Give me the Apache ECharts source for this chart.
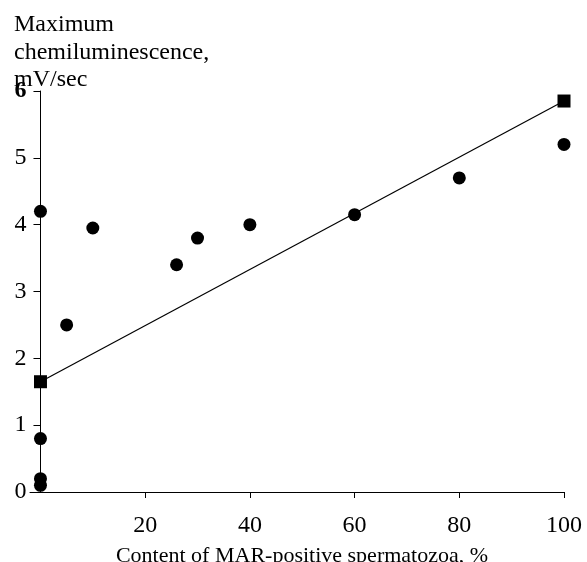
<!DOCTYPE html>
<html>
<head>
<meta charset="utf-8">
<script src="https://cdn.jsdelivr.net/npm/echarts@6/dist/echarts.min.js"></script>
<style>
  html, body { margin: 0; padding: 0; background: #fff; }
  #chart { width: 587px; height: 562px; }
</style>
</head>
<body>
<div id="chart"></div>
<script>
// measured points (MAR-positive %, max chemiluminescence)
const pointsX = [0, 0, 0, 0, 5, 10, 26, 30, 40, 60, 80, 100];
const pointsY = [4.2, 0.8, 0.2, 0.1, 2.5, 3.95, 3.4, 3.8, 4.0, 4.15, 4.7, 5.2];
// regression line end points
const fitX = [0, 100];
const fitY = [1.65, 5.85];
const xTicks = [20, 40, 60, 80, 100];

const FONT = "Liberation Serif";

// the x axis line starts a little left of 0; the y axis sits on x = 0
const X_MIN = -2;
const X_MAX = 100;
const GRID_LEFT = 30;
const GRID_RIGHT = 23;
const W = 587;
const zeroLeft = GRID_LEFT + ((0 - X_MIN) / (X_MAX - X_MIN)) * (W - GRID_LEFT - GRID_RIGHT);

const chart = echarts.init(document.getElementById("chart"));

chart.setOption({
  animation: false,
  backgroundColor: "#fff",
  title: {
    text: "Maximum\nchemiluminescence,\nmV/sec",
    left: 9,
    top: 6,
    textStyle: { fontFamily: FONT, fontSize: 24, fontWeight: "normal", color: "#000", lineHeight: 27.5 },
  },
  grid: [
    { left: GRID_LEFT, right: GRID_RIGHT, top: 91, bottom: 70, outerBoundsMode: "none" },
    { left: zeroLeft, right: GRID_RIGHT, top: 91, bottom: 70, outerBoundsMode: "none" },
  ],
  xAxis: [
    {
      gridIndex: 0,
      type: "value",
      min: X_MIN,
      max: X_MAX,
      name: "Content of MAR-positive spermatozoa, %",
      nameLocation: "middle",
      nameGap: 53,
      nameTextStyle: { fontFamily: FONT, fontSize: 22, color: "#000", padding: [0, 0, 0, 10] },
      splitLine: { show: false },
      axisLine: { onZero: false, lineStyle: { color: "#000", width: 1 } },
      axisTick: { show: true, length: 6, lineStyle: { color: "#000" }, customValues: xTicks },
      axisLabel: { fontFamily: FONT, fontSize: 24, color: "#000", margin: 22, customValues: xTicks },
    },
    { gridIndex: 1, type: "value", min: 0, max: X_MAX, show: false },
  ],
  yAxis: [
    { gridIndex: 0, type: "value", min: 0, max: 6, show: false },
    {
      gridIndex: 1,
      type: "value",
      min: 0,
      max: 6,
      interval: 1,
      splitLine: { show: false },
      axisLine: { show: true, onZero: false, lineStyle: { color: "#000", width: 1 } },
      axisTick: { show: true, inside: false, length: 7, lineStyle: { color: "#000", width: 1 } },
      axisLabel: {
        fontFamily: FONT, fontSize: 24, color: "#000", margin: 14,
        formatter: (v) => (v === 6 ? "{b|6}" : String(v)),
        rich: { b: { fontFamily: FONT, fontSize: 24, fontWeight: "bold", color: "#000" } },
      },
    },
  ],
  series: [
    {
      name: "fit",
      type: "line",
      xAxisIndex: 1,
      yAxisIndex: 1,
      data: fitX.map((x, i) => [x, fitY[i]]),
      symbol: "rect",
      symbolSize: 13,
      showAllSymbol: true,
      itemStyle: { color: "#000", opacity: 1 },
      lineStyle: { color: "#000", width: 1.2 },
      z: 3,
    },
    {
      name: "points",
      type: "scatter",
      xAxisIndex: 1,
      yAxisIndex: 1,
      data: pointsX.map((x, i) => [x, pointsY[i]]),
      symbol: "circle",
      symbolSize: 13,
      itemStyle: { color: "#000", opacity: 1 },
      z: 4,
    },
  ],
});
</script>
</body>
</html>
